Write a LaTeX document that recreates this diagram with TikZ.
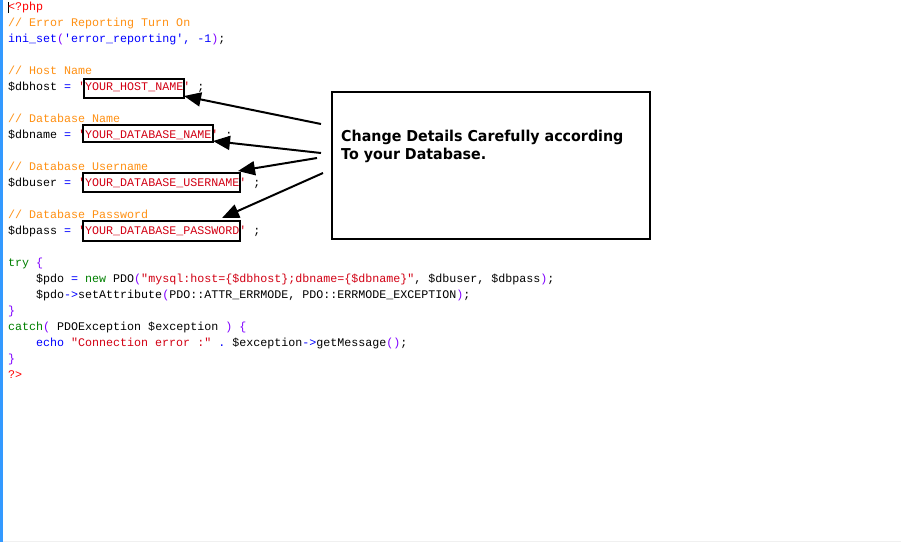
\documentclass[tikz,border=0pt]{standalone}
\usepackage{fontspec}
\setmonofont{Liberation Mono}
\newfontfamily\callfont{DejaVu Sans}[FakeStretch=0.95]
\usetikzlibrary{arrows.meta}
\definecolor{pblue}{RGB}{0,0,255}
\definecolor{ppurple}{RGB}{128,0,255}
\definecolor{pstr}{RGB}{210,0,20}
\definecolor{pcmt}{RGB}{255,145,20}
\definecolor{pgreen}{RGB}{0,128,0}
\definecolor{ptag}{RGB}{255,0,0}
\definecolor{pvar}{RGB}{0,0,0}
\definecolor{barblue}{RGB}{51,153,255}
\newcommand\codef{\ttfamily\fontsize{11.67}{14}\selectfont\frenchspacing}
\newcommand\ppb[1]{\textcolor{pblue}{#1}}
\newcommand\ppp[1]{\textcolor{ppurple}{#1}}
\newcommand\pps[1]{\textcolor{pstr}{#1}}
\newcommand\ppc[1]{\textcolor{pcmt}{#1}}
\newcommand\ppk[1]{\textcolor{pgreen}{#1}}
\newcommand\ppr[1]{\textcolor{ptag}{#1}}
\newcommand\ppv[1]{\textcolor{pvar}{#1}}
\begin{document}
\begin{tikzpicture}[x=1pt,y=-1pt,
  code/.style={anchor=base west, inner sep=0pt, font=\codef},
  strbox/.style={draw=black, line width=2pt, inner sep=0pt},
  callbox/.style={draw=black, line width=2pt, inner sep=0pt, minimum width=318pt, minimum height=147pt},
  callarrow/.style={draw=black, line width=2pt, -{Triangle[length=17pt,width=14pt]}},
  calltext/.style={anchor=north west, inner sep=0pt, align=left,
    font=\callfont\bfseries\fontsize{15}{18.5}\selectfont}]
\fill[white] (0,0) rectangle (901,542);
\useasboundingbox (0,0) rectangle (901,542);
% left margin bar and bottom line
\fill[barblue] (0,0) rectangle (3,542);
\draw[black!6, line width=1pt] (3,541.5) -- (901,541.5);
% caret
\fill[black] (7.5,2) rectangle (9,13);
% code
\node[code] (l1) at (8,10) {\ppr{<?php}};
\node[code] (l2) at (8,26) {\ppc{// Error Reporting Turn On}};
\node[code] (l3) at (8,42) {\ppb{ini\_set}\ppp{(}\ppb{'error\_reporting', -1}\ppp{)}\ppv{;}};
\node[code] (l5) at (8,74) {\ppc{// Host Name}};
\node[code] (l6) at (8,90) {\ppv{\$dbhost} \ppb{=} \pps{'YOUR\_HOST\_NAME'} \ppv{;}};
\node[code] (l8) at (8,122) {\ppc{// Database Name}};
\node[code] (l9) at (8,138) {\ppv{\$dbname} \ppb{=} \pps{'YOUR\_DATABASE\_NAME'} \ppv{;}};
\node[code] (l11) at (8,170) {\ppc{// Database Username}};
\node[code] (l12) at (8,186) {\ppv{\$dbuser} \ppb{=} \pps{'YOUR\_DATABASE\_USERNAME'} \ppv{;}};
\node[code] (l14) at (8,218) {\ppc{// Database Password}};
\node[code] (l15) at (8,234) {\ppv{\$dbpass} \ppb{=} \pps{'YOUR\_DATABASE\_PASSWORD'} \ppv{;}};
\node[code] (l17) at (8,266) {\ppk{try} \ppp{\{}};
\node[code] (l18) at (36,282) {\ppv{\$pdo} \ppb{=} \ppk{new} \ppv{PDO}\ppp{(}\pps{"mysql:host=\{\$dbhost\};dbname=\{\$dbname\}"}\ppv{, \$dbuser, \$dbpass}\ppp{)}\ppv{;}};
\node[code] (l19) at (36,298) {\ppv{\$pdo}\ppb{->}\ppv{setAttribute}\ppp{(}\ppv{PDO::ATTR\_ERRMODE, PDO::ERRMODE\_EXCEPTION}\ppp{)}\ppv{;}};
\node[code] (l20) at (8,314) {\ppp{\}}};
\node[code] (l21) at (8,330) {\ppk{catch}\ppp{(} \ppv{PDOException \$exception} \ppp{)} \ppp{\{}};
\node[code] (l22) at (36,346) {\ppb{echo} \pps{"Connection error :"} \ppb{.} \ppv{\$exception}\ppb{->}\ppv{getMessage}\ppp{()}\ppv{;}};
\node[code] (l23) at (8,362) {\ppp{\}}};
\node[code] (l24) at (8,378) {\ppr{?>}};
% boxes round the placeholder strings
\node[strbox, minimum width=100pt, minimum height=18.5pt] (hostbox) at (134,88.25) {};
\node[strbox, minimum width=130pt, minimum height=17pt] (namebox) at (148,133.5) {};
\node[strbox, minimum width=157pt, minimum height=19pt] (userbox) at (161.5,182.5) {};
\node[strbox, minimum width=157pt, minimum height=20pt] (passbox) at (161.5,231) {};
% callout
\node[callbox] (callout) at (491,165.5) {};
\node[calltext] (ctext) at (341,129.5) {Change Details Carefully according\\To your Database.};
% arrows
\coordinate (t1) at (321,124);
\coordinate (t2) at (321,153);
\coordinate (t3) at (317,158);
\coordinate (t4) at (323,173);
\draw[callarrow] (t1) -- ([shift={(-1,-2.5)}]hostbox.south east);
\draw[callarrow] (t2) -- ([shift={(-1,-2)}]namebox.south east);
\draw[callarrow] (t3) -- ([shift={(-3,-1)}]userbox.north east);
\draw[callarrow] (t4) -- ([shift={(-19,-2)}]passbox.north east);
\end{tikzpicture}
\end{document}
